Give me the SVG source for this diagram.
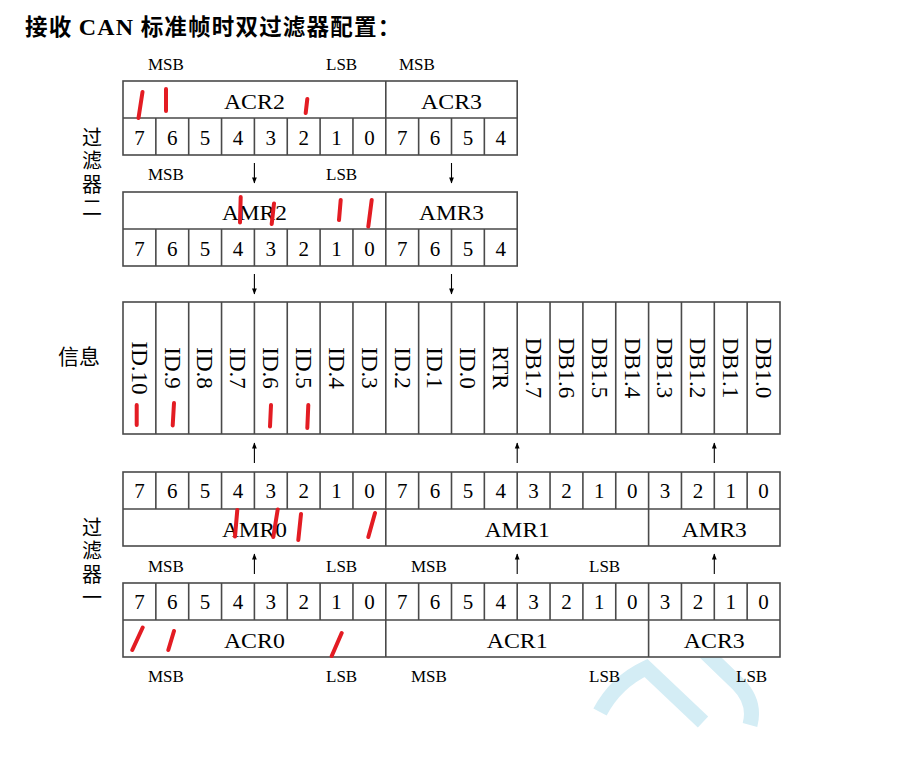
<svg xmlns="http://www.w3.org/2000/svg" width="906" height="769" viewBox="0 0 906 769">
<style>
.bg{fill:#ffffff}
.box{fill:#ffffff;stroke:#4a4a4a;stroke-width:1.6}
.ln{stroke:#4a4a4a;stroke-width:1.6;fill:none}
.t{font-family:"Liberation Serif","Times New Roman",serif;fill:#000;text-anchor:middle}
.d{font-size:21px}
.nm{font-size:22px}
.sb{font-family:"Liberation Serif",serif;font-size:17px;fill:#000}
.rt{font-family:"Liberation Serif",serif;font-size:23px;fill:#000;text-anchor:middle}
.cjk{font-family:"Noto Sans CJK SC","Noto Sans",sans-serif;font-size:20px;fill:#000}
.vt{writing-mode:vertical-rl;letter-spacing:3.5px}
.arr{stroke:#000;stroke-width:1.1;fill:none}
.red{stroke:#e31c23;stroke-width:4;stroke-linecap:round;fill:none}
.wm{stroke:#d4edf5;stroke-width:15;fill:none;stroke-linecap:butt}
</style>
<defs>
<marker id="ah" viewBox="0 0 10 10" refX="9" refY="5" markerWidth="7" markerHeight="6" markerUnits="userSpaceOnUse" orient="auto">
<path d="M0,1 L10,5 L0,9 Z" fill="#000"/>
</marker>
</defs>
<rect class="bg" x="0" y="0" width="906" height="769"/>

<g id="watermark">
<path class="wm" d="M600,712 Q616,682 646,668 L703,722"/>
<path class="wm" d="M680,628 L738,684 Q756,702 750,725"/>
</g>

<g id="title">
<text x="25" y="35" style="font-family:'Noto Sans CJK SC',sans-serif;font-size:22.5px;font-weight:bold;letter-spacing:1.2px">接收 <tspan style="font-family:'Liberation Serif',serif;font-weight:bold;font-size:24px">CAN</tspan> 标准帧时双过滤器配置：</text>
</g>

<g id="label-filter2">
<text class="cjk vt" x="92" y="127">过滤器二</text>
</g>
<g id="label-info">
<text class="cjk" x="79" y="364" text-anchor="middle" style="font-size:21px">信息</text>
</g>
<g id="label-filter1">
<text class="cjk vt" x="92" y="517">过滤器一</text>
</g>

<g id="msb-lsb-labels">
<text class="sb" x="148" y="70">MSB</text>
<text class="sb" x="326" y="70">LSB</text>
<text class="sb" x="399" y="70">MSB</text>
<text class="sb" x="148" y="180">MSB</text>
<text class="sb" x="326" y="180">LSB</text>
<text class="sb" x="148" y="572">MSB</text>
<text class="sb" x="326" y="572">LSB</text>
<text class="sb" x="411" y="572">MSB</text>
<text class="sb" x="589" y="572">LSB</text>
<text class="sb" x="148" y="682">MSB</text>
<text class="sb" x="326" y="682">LSB</text>
<text class="sb" x="411" y="682">MSB</text>
<text class="sb" x="589" y="682">LSB</text>
<text class="sb" x="736" y="682">LSB</text>
</g>

<g id="acr2-acr3">
<rect class="box" x="123" y="81" width="394.2" height="74"/>
<path class="ln" d="M123,118 H517.2 M385.8,81 V155 M155.85,118 V155 M188.7,118 V155 M221.55,118 V155 M254.4,118 V155 M287.25,118 V155 M320.1,118 V155 M352.95,118 V155 M418.65,118 V155 M451.5,118 V155 M484.35,118 V155"/>
<text class="t nm" x="254.4" y="109" textLength="61" lengthAdjust="spacingAndGlyphs">ACR2</text>
<text class="t nm" x="451.5" y="109" textLength="61" lengthAdjust="spacingAndGlyphs">ACR3</text>
<g class="t d">
<text x="139.4" y="145">7</text><text x="172.3" y="145">6</text><text x="205.1" y="145">5</text><text x="238" y="145">4</text><text x="270.8" y="145">3</text><text x="303.7" y="145">2</text><text x="336.5" y="145">1</text><text x="369.4" y="145">0</text>
<text x="402.2" y="145">7</text><text x="435.1" y="145">6</text><text x="467.9" y="145">5</text><text x="500.8" y="145">4</text>
</g>
</g>

<g id="amr2-amr3">
<rect class="box" x="123" y="192" width="394.2" height="74"/>
<path class="ln" d="M123,229 H517.2 M385.8,192 V266 M155.85,229 V266 M188.7,229 V266 M221.55,229 V266 M254.4,229 V266 M287.25,229 V266 M320.1,229 V266 M352.95,229 V266 M418.65,229 V266 M451.5,229 V266 M484.35,229 V266"/>
<text class="t nm" x="254.4" y="220" textLength="65" lengthAdjust="spacingAndGlyphs">AMR2</text>
<text class="t nm" x="451.5" y="220" textLength="65" lengthAdjust="spacingAndGlyphs">AMR3</text>
<g class="t d">
<text x="139.4" y="256">7</text><text x="172.3" y="256">6</text><text x="205.1" y="256">5</text><text x="238" y="256">4</text><text x="270.8" y="256">3</text><text x="303.7" y="256">2</text><text x="336.5" y="256">1</text><text x="369.4" y="256">0</text>
<text x="402.2" y="256">7</text><text x="435.1" y="256">6</text><text x="467.9" y="256">5</text><text x="500.8" y="256">4</text>
</g>
</g>

<g id="info">
<rect class="box" x="123" y="302" width="657" height="132"/>
<path class="ln" d="M155.85,302 V434 M188.7,302 V434 M221.55,302 V434 M254.4,302 V434 M287.25,302 V434 M320.1,302 V434 M352.95,302 V434 M385.8,302 V434 M418.65,302 V434 M451.5,302 V434 M484.35,302 V434 M517.2,302 V434 M550.05,302 V434 M582.9,302 V434 M615.75,302 V434 M648.6,302 V434 M681.45,302 V434 M714.3,302 V434 M747.15,302 V434"/>
<text class="rt" transform="translate(131.8,368) rotate(90)">ID.10</text>
<text class="rt" transform="translate(164.6,368) rotate(90)">ID.9</text>
<text class="rt" transform="translate(197.4,368) rotate(90)">ID.8</text>
<text class="rt" transform="translate(230.3,368) rotate(90)">ID.7</text>
<text class="rt" transform="translate(263.1,368) rotate(90)">ID.6</text>
<text class="rt" transform="translate(296,368) rotate(90)">ID.5</text>
<text class="rt" transform="translate(328.8,368) rotate(90)">ID.4</text>
<text class="rt" transform="translate(361.7,368) rotate(90)">ID.3</text>
<text class="rt" transform="translate(394.5,368) rotate(90)">ID.2</text>
<text class="rt" transform="translate(427.4,368) rotate(90)">ID.1</text>
<text class="rt" transform="translate(460.2,368) rotate(90)">ID.0</text>
<text class="rt" transform="translate(493.1,368) rotate(90)">RTR</text>
<text class="rt" transform="translate(525.9,368) rotate(90)">DB1.7</text>
<text class="rt" transform="translate(558.8,368) rotate(90)">DB1.6</text>
<text class="rt" transform="translate(591.6,368) rotate(90)">DB1.5</text>
<text class="rt" transform="translate(624.5,368) rotate(90)">DB1.4</text>
<text class="rt" transform="translate(657.3,368) rotate(90)">DB1.3</text>
<text class="rt" transform="translate(690.2,368) rotate(90)">DB1.2</text>
<text class="rt" transform="translate(723,368) rotate(90)">DB1.1</text>
<text class="rt" transform="translate(755.9,368) rotate(90)">DB1.0</text>
</g>

<g id="amr0-amr1-amr3">
<rect class="box" x="123" y="472" width="657" height="74"/>
<path class="ln" d="M123,509 H780 M385.8,509 V546 M648.6,509 V546 M155.85,472 V509 M188.7,472 V509 M221.55,472 V509 M254.4,472 V509 M287.25,472 V509 M320.1,472 V509 M352.95,472 V509 M385.8,472 V509 M418.65,472 V509 M451.5,472 V509 M484.35,472 V509 M517.2,472 V509 M550.05,472 V509 M582.9,472 V509 M615.75,472 V509 M648.6,472 V509 M681.45,472 V509 M714.3,472 V509 M747.15,472 V509"/>
<g class="t d">
<text x="139.4" y="498">7</text><text x="172.3" y="498">6</text><text x="205.1" y="498">5</text><text x="238" y="498">4</text><text x="270.8" y="498">3</text><text x="303.7" y="498">2</text><text x="336.5" y="498">1</text><text x="369.4" y="498">0</text>
<text x="402.2" y="498">7</text><text x="435.1" y="498">6</text><text x="467.9" y="498">5</text><text x="500.8" y="498">4</text><text x="533.6" y="498">3</text><text x="566.5" y="498">2</text><text x="599.3" y="498">1</text><text x="632.2" y="498">0</text>
<text x="665" y="498">3</text><text x="697.9" y="498">2</text><text x="730.7" y="498">1</text><text x="763.6" y="498">0</text>
</g>
<text class="t nm" x="254.4" y="537" textLength="65" lengthAdjust="spacingAndGlyphs">AMR0</text>
<text class="t nm" x="517.2" y="537" textLength="65" lengthAdjust="spacingAndGlyphs">AMR1</text>
<text class="t nm" x="714.3" y="537" textLength="65" lengthAdjust="spacingAndGlyphs">AMR3</text>
</g>

<g id="acr0-acr1-acr3">
<rect class="box" x="123" y="583" width="657" height="74"/>
<path class="ln" d="M123,620 H780 M385.8,620 V657 M648.6,620 V657 M155.85,583 V620 M188.7,583 V620 M221.55,583 V620 M254.4,583 V620 M287.25,583 V620 M320.1,583 V620 M352.95,583 V620 M385.8,583 V620 M418.65,583 V620 M451.5,583 V620 M484.35,583 V620 M517.2,583 V620 M550.05,583 V620 M582.9,583 V620 M615.75,583 V620 M648.6,583 V620 M681.45,583 V620 M714.3,583 V620 M747.15,583 V620"/>
<g class="t d">
<text x="139.4" y="609">7</text><text x="172.3" y="609">6</text><text x="205.1" y="609">5</text><text x="238" y="609">4</text><text x="270.8" y="609">3</text><text x="303.7" y="609">2</text><text x="336.5" y="609">1</text><text x="369.4" y="609">0</text>
<text x="402.2" y="609">7</text><text x="435.1" y="609">6</text><text x="467.9" y="609">5</text><text x="500.8" y="609">4</text><text x="533.6" y="609">3</text><text x="566.5" y="609">2</text><text x="599.3" y="609">1</text><text x="632.2" y="609">0</text>
<text x="665" y="609">3</text><text x="697.9" y="609">2</text><text x="730.7" y="609">1</text><text x="763.6" y="609">0</text>
</g>
<text class="t nm" x="254.4" y="648" textLength="61" lengthAdjust="spacingAndGlyphs">ACR0</text>
<text class="t nm" x="517.2" y="648" textLength="61" lengthAdjust="spacingAndGlyphs">ACR1</text>
<text class="t nm" x="714.3" y="648" textLength="61" lengthAdjust="spacingAndGlyphs">ACR3</text>
</g>

<g id="connectors">
<line class="arr" x1="254.4" y1="163" x2="254.4" y2="183" marker-end="url(#ah)"/>
<line class="arr" x1="451.5" y1="163" x2="451.5" y2="183" marker-end="url(#ah)"/>
<line class="arr" x1="254.4" y1="274" x2="254.4" y2="294" marker-end="url(#ah)"/>
<line class="arr" x1="451.5" y1="274" x2="451.5" y2="294" marker-end="url(#ah)"/>
<line class="arr" x1="254.4" y1="463" x2="254.4" y2="443" marker-end="url(#ah)"/>
<line class="arr" x1="517.2" y1="463" x2="517.2" y2="443" marker-end="url(#ah)"/>
<line class="arr" x1="714.3" y1="463" x2="714.3" y2="443" marker-end="url(#ah)"/>
<line class="arr" x1="254.4" y1="574" x2="254.4" y2="554" marker-end="url(#ah)"/>
<line class="arr" x1="517.2" y1="574" x2="517.2" y2="554" marker-end="url(#ah)"/>
<line class="arr" x1="714.3" y1="574" x2="714.3" y2="554" marker-end="url(#ah)"/>
</g>

<g id="red-marks">
<path class="red" d="M142.5,92 L138.5,118 M166,89 L166,111 M307.3,99 L305.7,113"/>
<path class="red" d="M240.7,197 L240,222.5 M274,203.5 L271.7,224 M340.7,200 L339,220 M371.7,200 L368.3,226.5"/>
<path class="red" d="M136.7,405 L136.7,425 M174,403 L172.7,425.5 M271,405 L270,426.5 M308.3,405 L307.3,428"/>
<path class="red" d="M237.3,510 L235,536.5 M277.7,509.5 L273.3,537 M301,514 L298.3,540 M375,513 L368.3,537"/>
<path class="red" d="M142.7,627.5 L132.3,650 M174,631 L168.3,650 M341.7,633 L331.7,656"/>
</g>
</svg>
